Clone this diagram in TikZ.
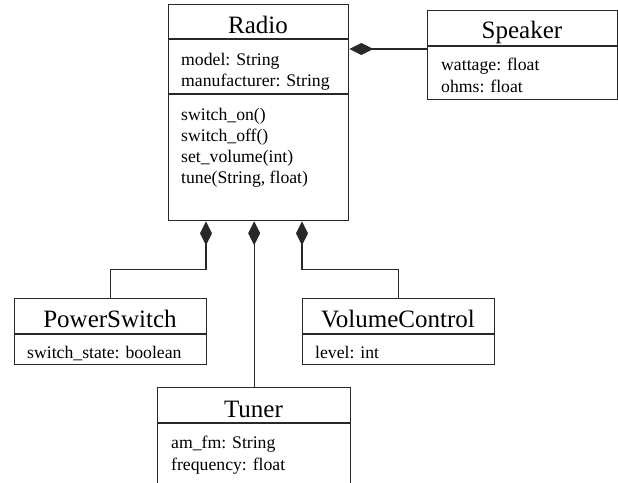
\documentclass[tikz,border=0pt]{standalone}
\usepackage{fontspec}
\setmainfont{Liberation Serif}
\usetikzlibrary{arrows.meta}
\definecolor{linec}{RGB}{40,40,40}
\begin{document}
\begin{tikzpicture}[x=1pt,y=-1pt,
  box/.style={draw=linec, line width=1.3pt, anchor=north west, inner sep=0pt},
  classname/.style={font=\fontsize{25}{30}\selectfont, anchor=base, inner sep=0pt},
  member/.style={font=\fontsize{17.7}{21}\selectfont, anchor=base west, inner sep=0pt},
  sep/.style={draw=linec, line width=1.3pt},
  comp/.style={draw=linec, line width=1.3pt, {Diamond[length=24pt,width=12pt]}-}]
\useasboundingbox (0,0) rectangle (618,482);
\clip (0,0) rectangle (618,482);

% Radio
\node[box, minimum width=180pt, minimum height=216pt] (radio) at (168,4) {};
\draw[sep] (radio.west |- 0,39) -- (radio.east |- 0,39);
\draw[sep] (radio.west |- 0,94) -- (radio.east |- 0,94);
\node[classname] (radio-name) at (258,33) {Radio};
\node[member] (radio-a1) at (181,65) {model: String};
\node[member] (radio-a2) at (181,86) {manufacturer: String};
\node[member] (radio-m1) at (181,120) {switch\_on()};
\node[member] (radio-m2) at (181,141) {switch\_off()};
\node[member] (radio-m3) at (181,162) {set\_volume(int)};
\node[member] (radio-m4) at (181,183) {tune(String, float)};

% Speaker
\node[box, minimum width=190pt, minimum height=89.5pt] (speaker) at (427,9.5) {};
\draw[sep] (speaker.west |- 0,46) -- (speaker.east |- 0,46);
\node[classname] (speaker-name) at (522,38) {Speaker};
\node[member] (speaker-a1) at (441,70) {wattage: float};
\node[member] (speaker-a2) at (441,92) {ohms: float};

% PowerSwitch
\node[box, minimum width=192pt, minimum height=66pt] (power) at (14,298) {};
\draw[sep] (power.west |- 0,334) -- (power.east |- 0,334);
\node[classname] (power-name) at (110,327) {PowerSwitch};
\node[member] (power-a1) at (27,358) {switch\_state: boolean};

% VolumeControl
\node[box, minimum width=192pt, minimum height=66pt] (volume) at (302,298) {};
\draw[sep] (volume.west |- 0,334) -- (volume.east |- 0,334);
\node[classname] (volume-name) at (398,327) {VolumeControl};
\node[member] (volume-a1) at (315,358) {level: int};

% Tuner (continues below the lower edge)
\node[box, minimum width=193pt, minimum height=130pt] (tuner) at (157,387) {};
\draw[sep] (tuner.west |- 0,423) -- (tuner.east |- 0,423);
\node[classname] (tuner-name) at (253.5,417) {Tuner};
\node[member] (tuner-a1) at (171,448) {am\_fm: String};
\node[member] (tuner-a2) at (171,470) {frequency: float};

% Composition links
\draw[comp] (radio.east |- 0,49) -- (speaker.west |- 0,49);
\draw[comp] ([xshift=38pt]radio.south west) -- ++(0,48) -| (power.north);
\draw[comp] (tuner.north |- radio.south) -- (tuner.north);
\draw[comp] ([xshift=134pt]radio.south west) -- ++(0,48) -| (volume.north);
\end{tikzpicture}
\end{document}
